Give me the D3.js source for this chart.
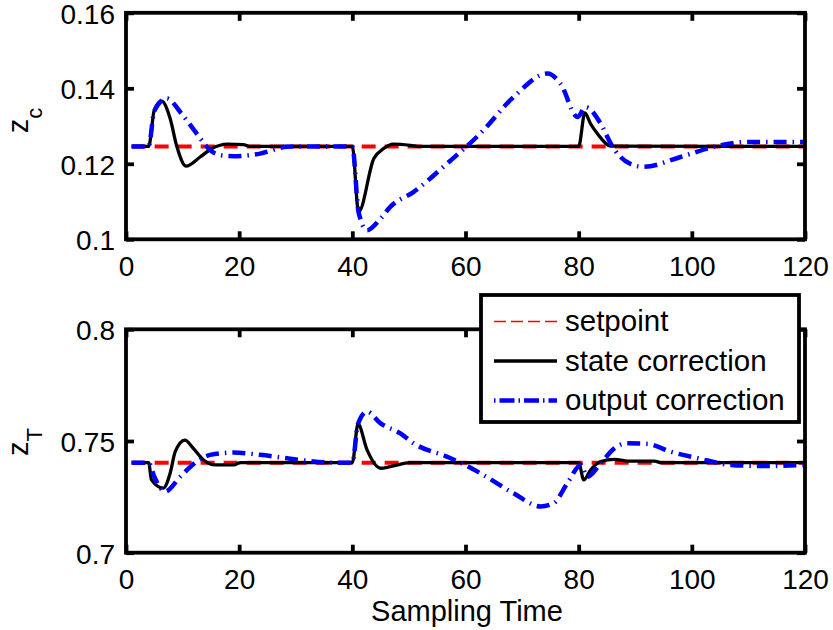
<!DOCTYPE html>
<html><head><meta charset="utf-8">
<script src="https://cdn.jsdelivr.net/npm/d3@7"></script>
<style>body{margin:0;background:#fff}text{font-family:"Liberation Sans",Arial,Helvetica,sans-serif}</style>
</head><body>
<svg id="c" width="833" height="630"></svg>
<script>
// ---------------- data ----------------
const xTicks = [0, 20, 40, 60, 80, 100, 120];
const xTickLabels = ["0", "20", "40", "60", "80", "100", "120"];
const topYTicks = [0.10, 0.12, 0.14, 0.16];
const topYTickLabels = ["0.1", "0.12", "0.14", "0.16"];
const botYTicks = [0.70, 0.75, 0.80];
const botYTickLabels = ["0.7", "0.75", "0.8"];
const seriesNames = ["setpoint", "state correction", "output correction"];

const setpointTime = [1, 120];
const topSetpoint = [0.1246, 0.1246];
const botSetpoint = [0.7403, 0.7403];

const topStateT = [1, 4, 5, 6.3, 7.8, 9, 10.6, 13.1, 14.9, 18, 20.7, 22, 40, 41.1, 43.8, 45.5, 47.3, 50.3, 52, 80, 81.1, 82.1, 83.3, 85.7, 120];
const topStateV = [0.1246, 0.1246, 0.1342, 0.1366, 0.1320, 0.1245, 0.1194, 0.1218, 0.1238, 0.1252, 0.1251, 0.1246, 0.1246, 0.1072, 0.1214, 0.1240, 0.1252, 0.1249, 0.1246, 0.1246, 0.1335, 0.1306, 0.1280, 0.1247, 0.1246];

const topOutT = [1, 4, 5, 7.2, 9.8, 12.5, 14.9, 17, 19, 23.7, 28.4, 31, 40, 41.1, 42.6, 45, 46.7, 50.8, 56.7, 62.6, 68.5, 74.5, 76.8, 79.8, 81.2, 83.9, 85.7, 87.4, 89.8, 91.5, 98, 103.9, 109.9, 115.8, 120];
const topOutV = [0.1246, 0.1246, 0.1340, 0.1373, 0.1333, 0.1280, 0.1236, 0.1222, 0.1220, 0.1227, 0.1245, 0.1246, 0.1246, 0.1072, 0.1024, 0.1055, 0.1086, 0.1125, 0.1200, 0.1280, 0.1377, 0.1439, 0.1412, 0.1324, 0.1350, 0.1306, 0.1253, 0.1218, 0.1196, 0.1192, 0.1218, 0.1245, 0.1258, 0.1258, 0.1258];

const botStateT = [1, 4, 4.5, 6.6, 7.8, 8.7, 10.4, 11.9, 13.7, 15.8, 19, 20.3, 40, 41, 42.6, 45, 46.7, 50.3, 80, 80.9, 82.1, 83.9, 86.3, 88.7, 93.4, 94.6, 120];
const botStateV = [0.7403, 0.7403, 0.7326, 0.7289, 0.7356, 0.7452, 0.7504, 0.7467, 0.7415, 0.7393, 0.7393, 0.7403, 0.7403, 0.7576, 0.7460, 0.7378, 0.7385, 0.7403, 0.7403, 0.7326, 0.7370, 0.7408, 0.7418, 0.7410, 0.7410, 0.7403, 0.7403];

const botOutT = [1, 4, 5, 6.9, 9.6, 12.5, 14.9, 19, 23.7, 30.8, 36.7, 40, 41, 42.6, 45, 48.5, 50.8, 56.7, 59.1, 62.6, 68.5, 73.3, 75.6, 78, 80.4, 81.5, 83.9, 86.3, 88.6, 92.2, 96.3, 101, 106.9, 112.8, 120];
const botOutV = [0.7403, 0.7403, 0.7340, 0.7274, 0.7341, 0.7408, 0.7438, 0.7448, 0.7438, 0.7415, 0.7403, 0.7403, 0.7576, 0.7631, 0.7579, 0.7534, 0.7490, 0.7430, 0.7403, 0.7356, 0.7266, 0.7207, 0.7222, 0.7311, 0.7393, 0.7340, 0.7400, 0.7467, 0.7490, 0.7487, 0.7452, 0.7423, 0.7393, 0.7388, 0.7393];

// ---------------- drawing ----------------
const svg = d3.select("#c");
const FS = 28;
const colors = ["#ff0000", "#000000", "#0000ff"];
const widths = [4, 3.3, 4.5];
const dashes = ["14,9", null, "13,6,1.5,6"];

function zip(t, v) { return t.map((d, i) => [d, v[i]]); }

function panel(cfg) {
  const x = d3.scaleLinear().domain([0, 120]).range([126, 805]);
  const y = d3.scaleLinear().domain(cfg.yDomain).range([cfg.bottom, cfg.top]);
  const g = svg.append("g");

  const line = d3.line().x(d => x(d[0])).y(d => y(d[1])).curve(d3.curveMonotoneX);
  cfg.series.forEach((s, i) => {
    g.append("path").datum(s).attr("d", line)
      .attr("fill", "none").attr("stroke", colors[i]).attr("stroke-width", widths[i])
      .attr("stroke-dasharray", dashes[i]).attr("stroke-linejoin", "round");
  });

  const axB = d3.axisBottom(x).tickValues(xTicks).tickFormat((d, i) => xTickLabels[i]).tickSizeInner(-8).tickSizeOuter(0).tickPadding(17);
  const axT = d3.axisTop(x).tickValues(xTicks).tickFormat("").tickSizeInner(-8).tickSizeOuter(0);
  const axL = d3.axisLeft(y).tickValues(cfg.yTicks).tickFormat((d, i) => cfg.yLabels[i]).tickSizeInner(-8).tickSizeOuter(0).tickPadding(11);
  const axR = d3.axisRight(y).tickValues(cfg.yTicks).tickFormat("").tickSizeInner(-8).tickSizeOuter(0);

  const style = sel => {
    sel.select(".domain").remove();
    sel.selectAll(".tick line").attr("stroke", "#000").attr("stroke-width", 3.8);
    sel.selectAll(".tick text").attr("fill", "#000").style("font-size", FS + "px");
  };
  g.append("g").attr("transform", `translate(0,${cfg.bottom})`).call(axB).call(style)
    .selectAll(".tick text").attr("dy", "0.69em");
  g.append("g").attr("transform", `translate(0,${cfg.top})`).call(axT).call(style);
  g.append("g").attr("transform", `translate(126,0)`).call(axL).call(style)
    .selectAll(".tick text").attr("dy", "0.37em");
  g.append("g").attr("transform", `translate(805,0)`).call(axR).call(style);

  g.append("rect").attr("x", 126).attr("y", cfg.top).attr("width", 805 - 126).attr("height", cfg.bottom - cfg.top)
    .attr("fill", "none").attr("stroke", "#000").attr("stroke-width", 3.8);

  const lab = g.append("text").attr("transform", `translate(28,${cfg.labelY}) rotate(-90)`)
    .attr("text-anchor", "middle").attr("fill", "#000").style("font-size", "29px");
  lab.append("tspan").text("z");
  lab.append("tspan").attr("dy", 14).style("font-size", "22px").text(cfg.sub);
  return { x, y };
}

panel({
  top: 12.8, bottom: 239.3, yDomain: [0.10, 0.16], yTicks: topYTicks, yLabels: topYTickLabels,
  labelY: 120.5, sub: "c",
  series: [zip(setpointTime, topSetpoint), zip(topStateT, topStateV), zip(topOutT, topOutV)]
});
panel({
  top: 329.3, bottom: 552.7, yDomain: [0.70, 0.80], yTicks: botYTicks, yLabels: botYTickLabels,
  labelY: 442, sub: "T",
  series: [zip(setpointTime, botSetpoint), zip(botStateT, botStateV), zip(botOutT, botOutV)]
});

// x label
svg.append("text").attr("x", 467).attr("y", 620.5).attr("text-anchor", "middle")
  .attr("fill", "#000").style("font-size", "29px").text("Sampling Time");

// legend
const lg = svg.append("g");
lg.append("rect").attr("x", 481).attr("y", 295).attr("width", 318).attr("height", 127)
  .attr("fill", "#fff").attr("stroke", "#000").attr("stroke-width", 3.8);
const legW = [1.3, 3.3, 4.5];
const legDash = ["12,5", null, "1.5,4,15,4"];
seriesNames.forEach((n, i) => {
  const yy = 321.5 + i * 39.5;
  lg.append("line").attr("x1", 494).attr("x2", 557).attr("y1", yy).attr("y2", yy)
    .attr("stroke", colors[i]).attr("stroke-width", legW[i]).attr("stroke-dasharray", legDash[i]);
  lg.append("text").attr("x", 565).attr("y", yy + 9.5).attr("fill", "#000")
    .style("font-size", "29.5px").text(n);
});
</script>
</body></html>
